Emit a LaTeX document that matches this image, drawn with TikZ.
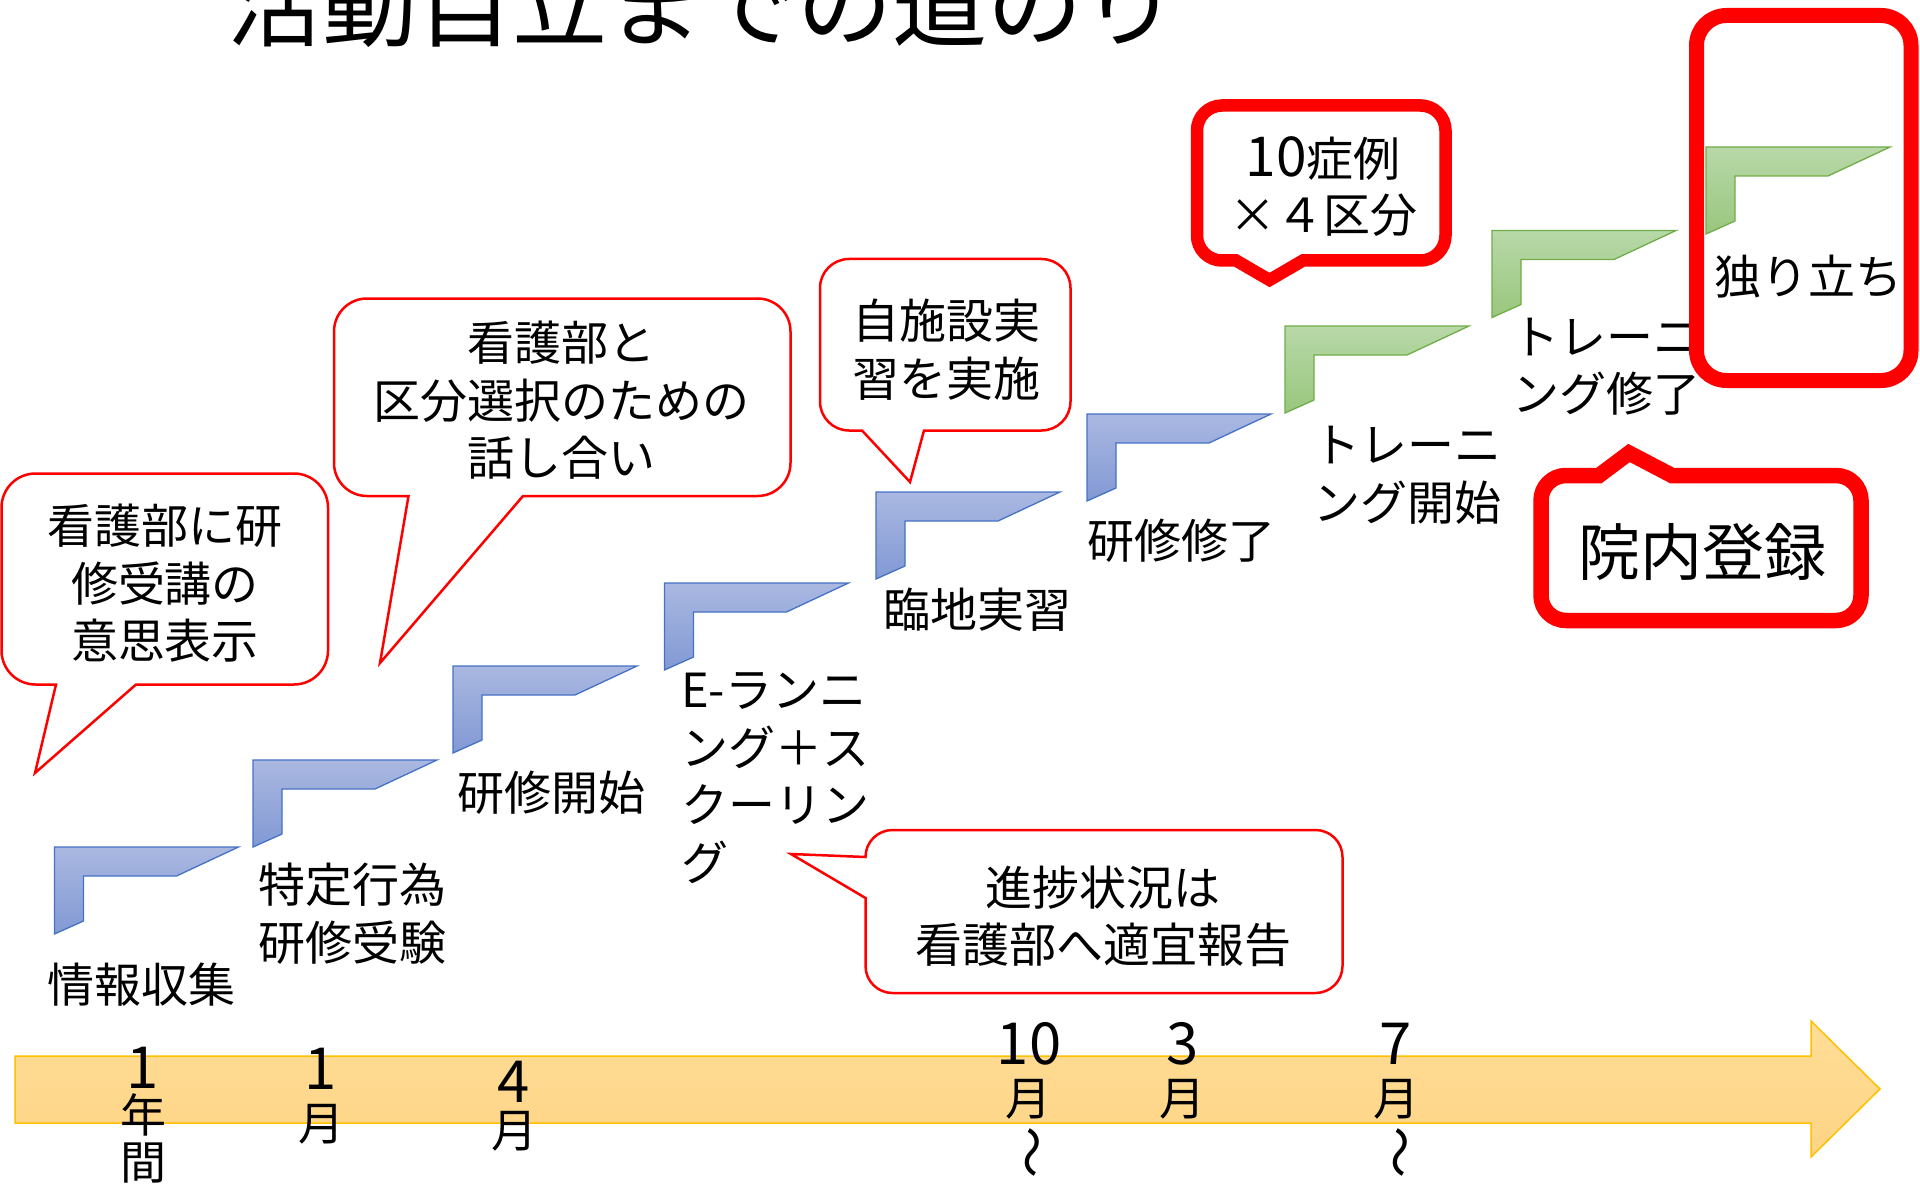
\documentclass[tikz,border=0pt]{standalone}
\usepackage{fontspec}
\setmainfont{Noto Sans CJK JP}
\usepackage{graphicx}
\definecolor{stepblueT}{RGB}{170,184,225}
\definecolor{stepblueB}{RGB}{130,153,212}
\definecolor{stepblueL}{RGB}{68,114,196}
\definecolor{stepgreenT}{RGB}{184,216,168}
\definecolor{stepgreenB}{RGB}{153,199,126}
\definecolor{stepgreenL}{RGB}{112,173,71}
\definecolor{arrowT}{RGB}{255,221,150}
\definecolor{arrowB}{RGB}{253,212,134}
\definecolor{arrowL}{RGB}{255,192,0}
\definecolor{calloutred}{RGB}{255,0,0}
\begin{document}
\begin{tikzpicture}[x=1pt,y=-1pt,
  bluestep/.style={top color=stepblueT,bottom color=stepblueB,draw=stepblueL,line width=1.3pt},
  greenstep/.style={top color=stepgreenT,bottom color=stepgreenB,draw=stepgreenL,line width=1.3pt},
  thincallout/.style={draw=calloutred,line width=2.5pt,fill=white,line join=miter},
  thickcallout/.style={draw=calloutred,line width=#1,fill=white,line join=miter},
  txt/.style={inner sep=0pt,font=\fontsize{47}{57.5}\selectfont,align=center},
  tldigit/.style={inner sep=0pt,font=\fontsize{58}{58}\selectfont},
  tlkanji/.style={inner sep=0pt,font=\fontsize{46}{46}\selectfont},
  tlwave/.style={inner sep=0pt,font=\fontsize{52}{52}\selectfont,rotate=-90}
]
\useasboundingbox (0,0) rectangle (1920,1185);
\fill[white] (0,0) rectangle (1920,1185);

% title
\node[anchor=base,inner sep=0pt,font=\fontsize{95}{95}\selectfont] (title) at (702.5,40) {活動自立までの道のり};

% timeline arrow
\path[top color=arrowT,bottom color=arrowB,draw=arrowL,line width=1.5pt]
  (15,1056) -- (1811,1056) -- (1811,1021) -- (1880,1089) -- (1811,1157) -- (1811,1123) -- (15,1123) -- cycle;

% steps
\foreach \x/\y in {54.5/847,253/760,453/666,664.5/583,876/492,1087/414}
  \path[bluestep] (\x,\y) -- ++(184,0) -- ++(-62,29) -- ++(-93,0) -- ++(0,45) -- ++(-29,13) -- cycle;
\foreach \x/\y in {1285/326,1492/230.5,1706/147}
  \path[greenstep] (\x,\y) -- ++(184,0) -- ++(-62,29) -- ++(-93,0) -- ++(0,45) -- ++(-29,13) -- cycle;

% step labels
\node[txt] (l1) at (141,985) {情報収集};
\node[txt] (l2) at (352.5,913.5) {特定行為\\研修受験};
\node[txt] (l3) at (551,793) {研修開始};
\node[txt,align=left,anchor=west] (l4) at (681,778) {E-ランニ\\ング＋ス\\クーリン\\グ};
\node[txt] (l5) at (977,610) {臨地実習};
\node[txt] (l6) at (1181,541) {研修修了};
\node[txt,align=left] (l7) at (1407,475.5) {トレーニ\\ング開始};
\node[txt,align=left] (l8) at (1606,366.5) {トレーニ\\ング修了};
\node[txt] (l9) at (1808,277) {独り立ち};

% timeline labels (vertical)
\node[tldigit] (t1a) at (143,1068) {1};
\node[tlkanji] (t1b) at (143,1115) {年};
\node[tlkanji] (t1c) at (143,1163) {間};
\node[tldigit] (t2a) at (321,1069) {1};
\node[tlkanji] (t2b) at (321,1124) {月};
\node[tldigit] (t3a) at (514,1082) {4};
\node[tlkanji] (t3b) at (514,1131) {月};
\node[tldigit] (t4a) at (1029,1044) {10};
\node[tlkanji] (t4b) at (1028,1099) {月};
\node[tlwave] (t4c) at (1026,1152) {〜};
\node[tldigit] (t5a) at (1183,1044) {3};
\node[tlkanji] (t5b) at (1182,1099) {月};
\node[tldigit] (t6a) at (1396,1044) {7};
\node[tlkanji] (t6b) at (1396,1099) {月};
\node[tlwave] (t6c) at (1394,1152) {〜};

% callout 1
\draw[thincallout] (35.5,473.5) -- (294,473.5) arc[start angle=270,end angle=360,radius=34]
  -- (328,650.5) arc[start angle=0,end angle=90,radius=34]
  -- (136,684.5) -- (35,773) -- (56,684.5)
  -- (35.5,684.5) arc[start angle=90,end angle=180,radius=34]
  -- (1.5,507.5) arc[start angle=180,end angle=270,radius=34] -- cycle;
\node[txt] (c1) at (165,583.5) {看護部に研\\修受講の\\意思表示};

% callout 2
\draw[thincallout] (367,298.5) -- (757.5,298.5) arc[start angle=270,end angle=360,radius=33]
  -- (790.5,463) arc[start angle=0,end angle=90,radius=33]
  -- (523,496) -- (380,663) -- (408.5,496)
  -- (367,496) arc[start angle=90,end angle=180,radius=33]
  -- (334,331.5) arc[start angle=180,end angle=270,radius=33] -- cycle;
\node[txt] (c2) at (561.5,400.5) {看護部と\\区分選択のための\\話し合い};

% callout 3
\draw[thincallout] (849,259) -- (1041.5,259) arc[start angle=270,end angle=360,radius=29]
  -- (1070.5,401.5) arc[start angle=0,end angle=90,radius=29]
  -- (924,430.5) -- (910,482) -- (862,430.5)
  -- (849,430.5) arc[start angle=90,end angle=180,radius=29]
  -- (820,288) arc[start angle=180,end angle=270,radius=29] -- cycle;
\node[txt] (c3) at (946,349.5) {自施設実\\習を実施};

% callout 4 (thick)
\draw[thickcallout=12.5pt] (1222,105.5) -- (1420.5,105.5) arc[start angle=270,end angle=360,radius=25]
  -- (1445.5,235.5) arc[start angle=0,end angle=90,radius=25]
  -- (1303,260.5) -- (1269.5,280) -- (1236,260.5)
  -- (1222,260.5) arc[start angle=90,end angle=180,radius=25]
  -- (1197,130.5) arc[start angle=180,end angle=270,radius=25] -- cycle;
\node[txt,font=\fontsize{47}{56}\selectfont] (c4) at (1323,187) {{\fontsize{55}{56}\selectfont 10}症例\\×４区分};

% callout 5 (thick, pointer up)
\draw[thickcallout=15.5pt] (1566,475.5) -- (1599,475.5) -- (1629,453) -- (1672,475.5)
  -- (1836,475.5) arc[start angle=270,end angle=360,radius=25]
  -- (1861,595.5) arc[start angle=0,end angle=90,radius=25]
  -- (1566,620.5) arc[start angle=90,end angle=180,radius=25]
  -- (1541,500.5) arc[start angle=180,end angle=270,radius=25] -- cycle;
\node[txt,font=\fontsize{62}{62}\selectfont] (c5) at (1702,552) {院内登録};

% callout 6 (pointer left)
\draw[thincallout] (892.5,830) -- (1315.5,830) arc[start angle=270,end angle=360,radius=27]
  -- (1342.5,966) arc[start angle=0,end angle=90,radius=27]
  -- (892.5,993) arc[start angle=90,end angle=180,radius=27]
  -- (865.5,898) -- (791,854) -- (865.5,857)
  arc[start angle=180,end angle=270,radius=27] -- cycle;
\node[txt] (c6) at (1103,916.5) {進捗状況は\\看護部へ適宜報告};

% frame round 独り立ち
\draw[draw=calloutred,line width=15pt,rounded corners=30pt] (1696.5,15.5) rectangle (1911,380.5);
\end{tikzpicture}
\end{document}
